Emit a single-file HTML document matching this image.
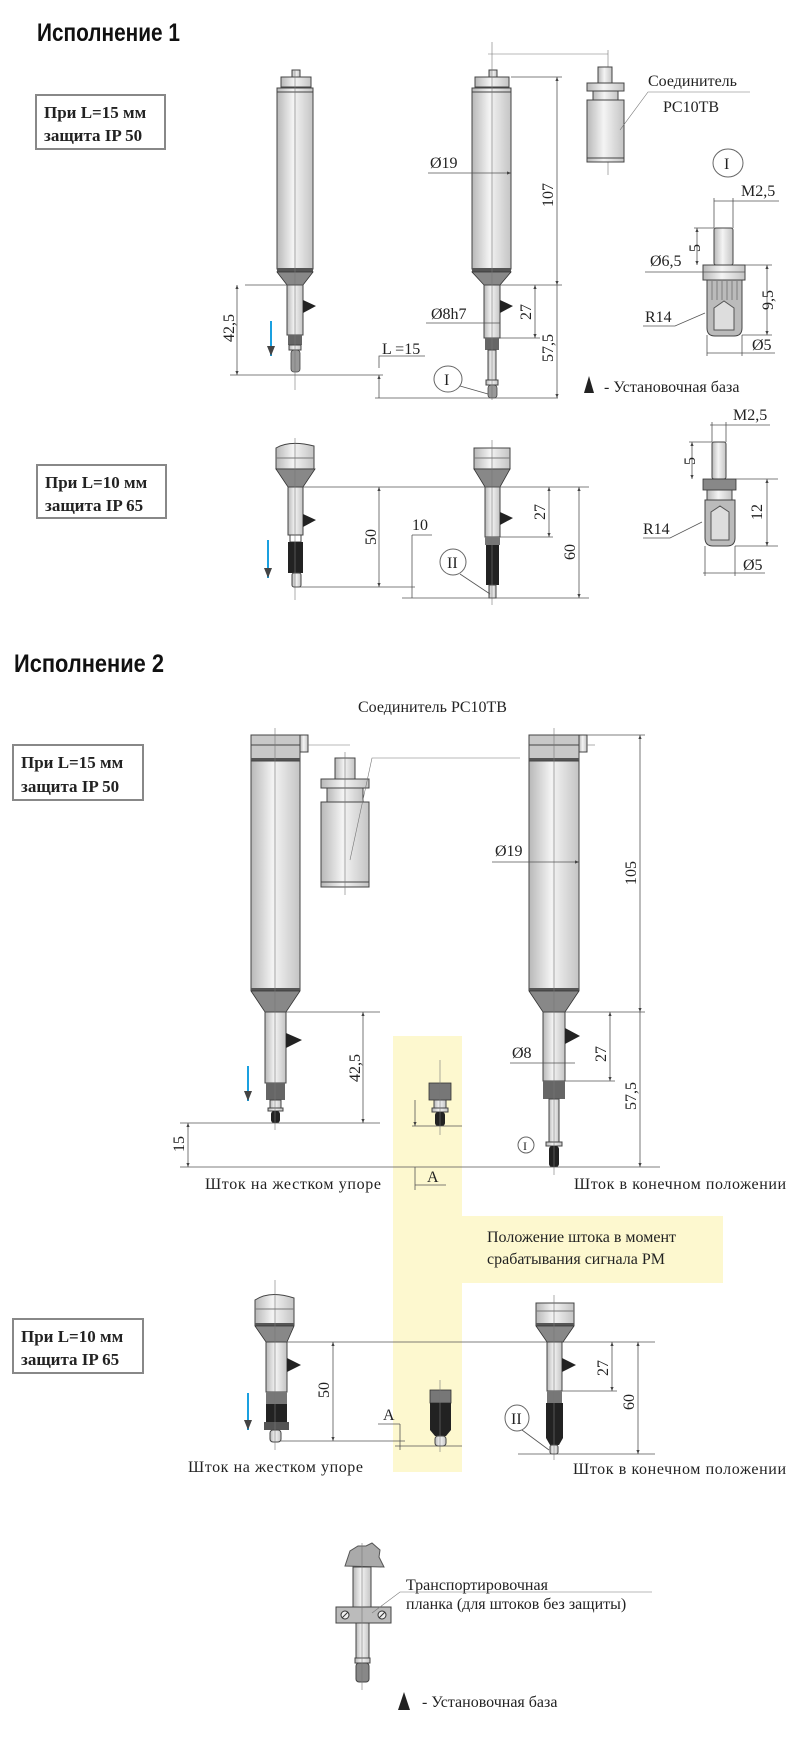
<!DOCTYPE html>
<html><head><meta charset="utf-8"><style>
html,body{margin:0;padding:0;background:#fff}
svg{display:block}
text{font-family:"Liberation Serif",serif;fill:#222}
.t{font-family:"Liberation Sans",sans-serif;font-weight:bold;fill:#111}
.b{font-weight:bold;font-size:17px}
.s{font-size:16px}
.d{stroke:#555;stroke-width:.8;fill:none}
.c{stroke:#777;stroke-width:.6;fill:none}
.m{fill:url(#g);stroke:#444;stroke-width:1}
.k{fill:#222}
.gr{fill:#888;stroke:#333;stroke-width:.8}
</style></head><body>
<svg width="800" height="1741" viewBox="0 0 800 1741" xmlns="http://www.w3.org/2000/svg">
<defs>
<linearGradient id="g" x1="0" x2="1" y1="0" y2="0"><stop offset="0" stop-color="#b8b8b8"/><stop offset=".45" stop-color="#f4f4f4"/><stop offset="1" stop-color="#c4c4c4"/></linearGradient>
<marker id="a" markerWidth="6" markerHeight="6" refX="5" refY="3" orient="auto-start-reverse"><path d="M0,1 L5,3 L0,5z" fill="#444"/></marker>
</defs>

<!-- titles -->
<text class="t" x="37" y="41" font-size="25" textLength="143" lengthAdjust="spacingAndGlyphs">Исполнение 1</text>
<text class="t" x="14" y="672" font-size="25" textLength="150" lengthAdjust="spacingAndGlyphs">Исполнение 2</text>

<!-- boxes -->
<g fill="#fff" stroke="#888" stroke-width="2">
<rect x="36" y="95" width="129" height="54"/><rect x="37" y="465" width="129" height="53"/>
<rect x="13" y="745" width="130" height="55"/><rect x="13" y="1319" width="130" height="54"/>
</g>
<text class="b" x="44" y="118">При L=15 мм</text><text class="b" x="44" y="141">защита IP 50</text>
<text class="b" x="45" y="488">При L=10 мм</text><text class="b" x="45" y="511">защита IP 65</text>
<text class="b" x="21" y="768">При L=15 мм</text><text class="b" x="21" y="792">защита IP 50</text>
<text class="b" x="21" y="1342">При L=10 мм</text><text class="b" x="21" y="1365">защита IP 65</text>

<!-- yellow -->
<rect x="393" y="1036" width="69" height="436" fill="#fdf8cf"/>
<rect x="462" y="1216" width="261" height="67" fill="#fdf8cf"/>
<text class="s" x="487" y="1242">Положение штока в момент</text>
<text class="s" x="487" y="1264">срабатывания сигнала РМ</text>

<!-- ===== Section 1 upper ===== -->
<!-- probe A -->
<path d="M292,70 h8 v7 h-8z" class="m"/>
<rect x="281" y="77" width="30" height="10" class="m"/>
<rect x="277" y="88" width="36" height="181" class="m"/>
<line x1="277" y1="92" x2="313" y2="92" stroke="#444"/>
<rect x="277" y="268" width="36" height="4" fill="#555"/>
<path d="M277,272 H313 L303,285 H287z" class="gr"/>
<rect x="287" y="285" width="16" height="50" class="m"/>
<rect x="288" y="335" width="14" height="10" fill="#666"/>
<rect x="289" y="345" width="12" height="5" class="m"/>
<rect x="291" y="350" width="9" height="22" rx="3" fill="#999" stroke="#444" stroke-width=".8"/>
<path d="M303,300 L316,306 L303,313z" class="k"/>
<line x1="295" y1="70" x2="295" y2="390" class="c"/>
<line x1="271" y1="321" x2="271" y2="356" stroke="#1aa0e0" stroke-width="2" marker-end="url(#a)"/>
<line x1="303" y1="285" x2="245" y2="285" class="d"/>
<line x1="237" y1="285" x2="237" y2="375" class="d" marker-start="url(#a)" marker-end="url(#a)"/>
<text class="s" transform="translate(234,342) rotate(-90)">42,5</text>
<line x1="230" y1="375" x2="383" y2="375" class="d"/>
<!-- probe B -->
<path d="M489,70 h8 v7 h-8z" class="m"/>
<rect x="475" y="77" width="34" height="10" class="m"/>
<rect x="472" y="88" width="39" height="181" class="m"/>
<line x1="472" y1="92" x2="511" y2="92" stroke="#444"/>
<rect x="472" y="268" width="39" height="4" fill="#555"/>
<path d="M472,272 H511 L500,285 H484z" class="gr"/>
<rect x="484" y="285" width="16" height="53" class="m"/>
<rect x="485" y="338" width="14" height="12" fill="#666"/>
<rect x="488" y="350" width="8" height="30" class="m"/>
<rect x="486" y="380" width="12" height="5" class="m"/>
<rect x="488" y="385" width="9" height="13" rx="3" fill="#999" stroke="#444" stroke-width=".8"/>
<path d="M500,300 L513,306 L500,313z" class="k"/>
<line x1="492" y1="42" x2="492" y2="400" class="c"/>
<line x1="488" y1="54" x2="608" y2="54" class="c"/>
<line x1="608" y1="50" x2="608" y2="175" class="c"/>
<line x1="511" y1="77" x2="562" y2="77" class="d"/>
<line x1="557" y1="77" x2="557" y2="285" class="d" marker-start="url(#a)" marker-end="url(#a)"/>
<text class="s" transform="translate(553,207) rotate(-90)">107</text>
<line x1="500" y1="285" x2="562" y2="285" class="d"/>
<line x1="557" y1="285" x2="557" y2="398" class="d" marker-end="url(#a)"/>
<text class="s" transform="translate(553,362) rotate(-90)">57,5</text>
<line x1="535" y1="285" x2="535" y2="338" class="d" marker-start="url(#a)" marker-end="url(#a)"/>
<text class="s" transform="translate(531,320) rotate(-90)">27</text>
<line x1="500" y1="338" x2="540" y2="338" class="d"/>
<line x1="428" y1="173" x2="511" y2="173" class="d" marker-end="url(#a)"/>
<text class="s" x="430" y="168">Ø19</text>
<line x1="426" y1="323" x2="500" y2="323" class="d"/>
<text class="s" x="431" y="319">Ø8h7</text>
<line x1="375" y1="398" x2="558" y2="398" class="d"/>
<line x1="379" y1="375" x2="379" y2="398" class="d" marker-start="url(#a)"/>
<path d="M379,368 V356 H425" class="d"/>
<text class="s" x="382" y="354">L =15</text>
<ellipse cx="448" cy="379" rx="14" ry="13" fill="#fff" stroke="#666"/>
<text class="s" x="444" y="385">I</text>
<line x1="460" y1="386" x2="488" y2="394" class="d"/>
<!-- connector 1 -->
<rect x="598" y="67" width="14" height="16" class="m"/>
<rect x="587" y="83" width="37" height="8" class="m"/>
<rect x="593" y="91" width="25" height="9" class="m"/>
<rect x="587" y="100" width="37" height="62" class="m"/>
<line x1="587" y1="158" x2="624" y2="158" stroke="#444"/>
<text class="s" x="648" y="86">Соединитель</text>
<text class="s" x="663" y="112">PC10TB</text>
<path d="M750,92 H648 L620,130" class="c"/>
<!-- detail I -->
<ellipse cx="728" cy="163" rx="15" ry="14" fill="#fff" stroke="#666"/>
<text class="s" x="724" y="169">I</text>
<rect x="714" y="228" width="19" height="37" rx="2" class="m"/>
<rect x="703" y="265" width="42" height="15" class="m"/>
<path d="M707,280 H742 V328 Q742,336 734,336 H715 Q707,336 707,328z" fill="#bbb" stroke="#444"/>
<g stroke="#666" stroke-width=".7"><line x1="712" y1="281" x2="712" y2="300"/><line x1="717" y1="281" x2="717" y2="300"/><line x1="722" y1="281" x2="722" y2="300"/><line x1="727" y1="281" x2="727" y2="300"/><line x1="732" y1="281" x2="732" y2="300"/><line x1="737" y1="281" x2="737" y2="300"/></g>
<path d="M714,308 L724,301 L734,308 V330 H714z" fill="#ddd" stroke="#555"/>
<line x1="697" y1="228" x2="697" y2="265" class="d" marker-start="url(#a)" marker-end="url(#a)"/>
<line x1="694" y1="228" x2="714" y2="228" class="d"/>
<text class="s" transform="translate(700,252) rotate(-90)">5</text>
<line x1="714" y1="198" x2="714" y2="228" class="d"/><line x1="733" y1="198" x2="733" y2="228" class="d"/>
<line x1="714" y1="201" x2="779" y2="201" class="d"/>
<text class="s" x="741" y="196">M2,5</text>
<line x1="645" y1="272" x2="745" y2="272" class="d"/>
<text class="s" x="650" y="266">Ø6,5</text>
<line x1="745" y1="265" x2="772" y2="265" class="d"/><line x1="742" y1="335" x2="772" y2="335" class="d"/>
<line x1="767" y1="265" x2="767" y2="335" class="d" marker-start="url(#a)" marker-end="url(#a)"/>
<text class="s" transform="translate(773,310) rotate(-90)">9,5</text>
<line x1="707" y1="335" x2="707" y2="356" class="d"/><line x1="742" y1="335" x2="742" y2="356" class="d"/>
<line x1="707" y1="353" x2="775" y2="353" class="d"/>
<text class="s" x="752" y="350">Ø5</text>
<path d="M643,326 H675 L705,313" class="d"/>
<text class="s" x="645" y="322">R14</text>
<path d="M584,393 L589,376 L594,393z" class="k"/>
<text class="s" x="604" y="392">- Установочная база</text>

<!-- ===== Section 1 lower ===== -->
<!-- probe C -->
<path d="M276,448 Q290,440 314,446 V469 H276z" class="m"/>
<line x1="276" y1="458" x2="314" y2="458" stroke="#777"/>
<path d="M276,469 H315 L303,487 H288z" class="gr"/>
<rect x="288" y="487" width="15" height="48" class="m"/>
<rect x="290" y="535" width="11" height="7" fill="#fff" stroke="#444"/>
<rect x="288" y="542" width="15" height="31" fill="#222"/>
<rect x="292" y="573" width="9" height="14" rx="2" class="m"/>
<path d="M303,514 L316,520 L303,527z" class="k"/>
<line x1="295" y1="438" x2="295" y2="600" class="c"/>
<line x1="268" y1="540" x2="268" y2="578" stroke="#1aa0e0" stroke-width="2" marker-end="url(#a)"/>
<!-- probe D -->
<path d="M474,448 H510 V469 H474z" class="m"/>
<line x1="474" y1="458" x2="510" y2="458" stroke="#777"/>
<path d="M474,469 H510 L500,487 H485z" class="gr"/>
<rect x="485" y="487" width="15" height="50" class="m"/>
<rect x="485" y="537" width="15" height="8" fill="#777"/>
<rect x="486" y="545" width="13" height="40" fill="#222"/>
<rect x="489" y="585" width="7" height="13" class="m"/>
<path d="M500,512 L513,518 L500,525z" class="k"/>
<line x1="492" y1="440" x2="492" y2="605" class="c"/>
<line x1="303" y1="487" x2="589" y2="487" class="d"/>
<line x1="379" y1="487" x2="379" y2="587" class="d" marker-start="url(#a)" marker-end="url(#a)"/>
<text class="s" transform="translate(376,545) rotate(-90)">50</text>
<line x1="295" y1="587" x2="415" y2="587" class="d"/>
<line x1="412" y1="535" x2="412" y2="598" class="d"/>
<path d="M412,535 H432" class="d"/>
<text class="s" x="412" y="530">10</text>
<line x1="402" y1="598" x2="589" y2="598" class="d"/>
<line x1="549" y1="487" x2="549" y2="537" class="d" marker-start="url(#a)" marker-end="url(#a)"/>
<line x1="500" y1="537" x2="553" y2="537" class="d"/>
<text class="s" transform="translate(545,520) rotate(-90)">27</text>
<line x1="579" y1="487" x2="579" y2="598" class="d" marker-start="url(#a)" marker-end="url(#a)"/>
<text class="s" transform="translate(575,560) rotate(-90)">60</text>
<ellipse cx="453" cy="562" rx="13" ry="13" fill="#fff" stroke="#666"/>
<text class="s" x="447" y="568">II</text>
<line x1="460" y1="574" x2="490" y2="594" class="d"/>
<!-- detail II -->
<rect x="712" y="442" width="14" height="37" rx="2" class="m"/>
<rect x="703" y="479" width="33" height="11" class="gr"/>
<rect x="707" y="490" width="25" height="10" class="m"/>
<path d="M705,500 H735 V538 Q735,546 727,546 H713 Q705,546 705,538z" fill="#bbb" stroke="#444"/>
<path d="M711,512 L720,506 L729,512 V540 H711z" fill="#ddd" stroke="#555"/>
<line x1="712" y1="422" x2="712" y2="442" class="d"/><line x1="726" y1="422" x2="726" y2="442" class="d"/>
<line x1="710" y1="425" x2="770" y2="425" class="d"/>
<text class="s" x="733" y="420">M2,5</text>
<line x1="692" y1="442" x2="692" y2="479" class="d" marker-start="url(#a)" marker-end="url(#a)"/>
<line x1="689" y1="442" x2="712" y2="442" class="d"/>
<text class="s" transform="translate(695,465) rotate(-90)">5</text>
<line x1="736" y1="479" x2="778" y2="479" class="d"/><line x1="735" y1="546" x2="778" y2="546" class="d"/>
<line x1="767" y1="479" x2="767" y2="546" class="d" marker-start="url(#a)" marker-end="url(#a)"/>
<text class="s" transform="translate(762,520) rotate(-90)">12</text>
<line x1="705" y1="546" x2="705" y2="576" class="d"/><line x1="735" y1="546" x2="735" y2="576" class="d"/>
<line x1="703" y1="573" x2="765" y2="573" class="d"/>
<text class="s" x="743" y="570">Ø5</text>
<path d="M643,538 H670 L702,522" class="d"/>
<text class="s" x="643" y="534">R14</text>

<!-- ===== Section 2 upper ===== -->
<!-- probe E -->
<rect x="300" y="735" width="8" height="17" class="m"/>
<rect x="251" y="735" width="49" height="25" fill="#c8c8c8" stroke="#444"/>
<line x1="251" y1="745" x2="300" y2="745" stroke="#444"/>
<rect x="251" y="758" width="49" height="3" fill="#555"/>
<rect x="251" y="761" width="49" height="229" class="m"/>
<rect x="251" y="988" width="49" height="3" fill="#555"/>
<path d="M251,991 H300 L286,1012 H265z" class="gr"/>
<rect x="265" y="1012" width="21" height="71" class="m"/>
<rect x="266" y="1083" width="19" height="17" fill="#666"/>
<rect x="270" y="1100" width="11" height="8" class="m"/>
<rect x="268" y="1108" width="15" height="3" class="m"/>
<rect x="271" y="1111" width="9" height="12" rx="3" fill="#222"/>
<path d="M286,1033 L302,1040 L286,1048z" class="k"/>
<line x1="275" y1="728" x2="275" y2="1130" class="c"/>
<line x1="308" y1="745" x2="350" y2="745" class="c"/>
<line x1="248" y1="1066" x2="248" y2="1101" stroke="#1aa0e0" stroke-width="2" marker-end="url(#a)"/>
<line x1="286" y1="1012" x2="380" y2="1012" class="d"/>
<line x1="363" y1="1012" x2="363" y2="1123" class="d" marker-start="url(#a)" marker-end="url(#a)"/>
<text class="s" transform="translate(360,1082) rotate(-90)">42,5</text>
<line x1="180" y1="1123" x2="380" y2="1123" class="d"/>
<line x1="188" y1="1123" x2="188" y2="1167" class="d" marker-start="url(#a)" marker-end="url(#a)"/>
<text class="s" transform="translate(184,1152) rotate(-90)">15</text>
<!-- connector 2 -->
<rect x="335" y="758" width="20" height="21" class="m"/>
<rect x="321" y="779" width="48" height="9" class="m"/>
<rect x="327" y="788" width="36" height="14" class="m"/>
<rect x="321" y="802" width="48" height="85" class="m"/>
<line x1="321" y1="882" x2="369" y2="882" stroke="#444"/>
<line x1="345" y1="752" x2="345" y2="895" class="c"/>
<text class="s" x="358" y="712">Соединитель PC10TB</text>
<path d="M520,758 H372 L350,860" class="c"/>
<!-- small probe in yellow -->
<rect x="429" y="1083" width="22" height="17" fill="#777" stroke="#333" stroke-width=".8"/>
<rect x="434" y="1100" width="12" height="8" class="m"/>
<rect x="432" y="1108" width="16" height="4" class="m"/>
<rect x="435" y="1112" width="10" height="14" rx="3" fill="#222"/>
<line x1="440" y1="1060" x2="440" y2="1135" class="c"/>
<line x1="412" y1="1126" x2="462" y2="1126" class="d"/>
<line x1="415" y1="1100" x2="415" y2="1126" class="d" marker-end="url(#a)"/>
<line x1="415" y1="1167" x2="415" y2="1190" class="d"/>
<path d="M415,1185 H446" class="d"/>
<text class="s" x="427" y="1182">A</text>
<!-- probe F -->
<rect x="579" y="735" width="8" height="17" class="m"/>
<rect x="529" y="735" width="50" height="25" fill="#c8c8c8" stroke="#444"/>
<line x1="529" y1="745" x2="579" y2="745" stroke="#444"/>
<rect x="529" y="758" width="50" height="3" fill="#555"/>
<rect x="529" y="761" width="50" height="229" class="m"/>
<rect x="529" y="988" width="50" height="3" fill="#555"/>
<path d="M529,991 H579 L565,1012 H543z" class="gr"/>
<rect x="543" y="1012" width="22" height="69" class="m"/>
<rect x="543" y="1081" width="22" height="18" fill="#666"/>
<rect x="549" y="1099" width="10" height="43" class="m"/>
<rect x="546" y="1142" width="16" height="4" class="m"/>
<rect x="549" y="1146" width="10" height="21" rx="3" fill="#222"/>
<path d="M565,1028 L580,1036 L565,1044z" class="k"/>
<line x1="554" y1="728" x2="554" y2="1175" class="c"/>
<line x1="587" y1="735" x2="645" y2="735" class="d"/>
<line x1="587" y1="745" x2="595" y2="745" class="c"/>
<line x1="640" y1="735" x2="640" y2="1012" class="d" marker-start="url(#a)" marker-end="url(#a)"/>
<text class="s" transform="translate(636,885) rotate(-90)">105</text>
<line x1="565" y1="1012" x2="645" y2="1012" class="d"/>
<line x1="640" y1="1012" x2="640" y2="1167" class="d" marker-end="url(#a)"/>
<text class="s" transform="translate(636,1110) rotate(-90)">57,5</text>
<line x1="610" y1="1012" x2="610" y2="1081" class="d" marker-start="url(#a)" marker-end="url(#a)"/>
<line x1="565" y1="1081" x2="615" y2="1081" class="d"/>
<text class="s" transform="translate(606,1062) rotate(-90)">27</text>
<line x1="492" y1="862" x2="579" y2="862" class="d" marker-end="url(#a)"/>
<text class="s" x="495" y="856">Ø19</text>
<line x1="510" y1="1063" x2="575" y2="1063" class="d"/>
<text class="s" x="512" y="1058">Ø8</text>
<ellipse cx="526" cy="1145" rx="8" ry="8" fill="#fff" stroke="#666"/>
<text x="523" y="1150" font-size="12">I</text>
<line x1="180" y1="1167" x2="660" y2="1167" class="d"/>
<text class="s" x="205" y="1189" textLength="176">Шток на жестком упоре</text>
<text class="s" x="574" y="1189" textLength="212">Шток в конечном положении</text>

<!-- ===== Section 2 lower ===== -->
<!-- probe G -->
<path d="M255,1300 Q270,1290 294,1298 V1325 H255z" class="m"/>
<line x1="255" y1="1309" x2="294" y2="1309" stroke="#777"/>
<rect x="255" y="1323" width="39" height="3" fill="#555"/>
<path d="M255,1326 H294 L287,1342 H266z" class="gr"/>
<rect x="266" y="1342" width="21" height="50" class="m"/>
<rect x="266" y="1392" width="21" height="12" fill="#777"/>
<rect x="266" y="1404" width="21" height="21" fill="#222"/>
<rect x="264" y="1422" width="25" height="8" fill="#555"/>
<rect x="270" y="1430" width="11" height="12" rx="3" class="m"/>
<path d="M287,1358 L301,1365 L287,1372z" class="k"/>
<line x1="275" y1="1280" x2="275" y2="1450" class="c"/>
<line x1="248" y1="1393" x2="248" y2="1430" stroke="#1aa0e0" stroke-width="2" marker-end="url(#a)"/>
<line x1="287" y1="1342" x2="655" y2="1342" class="d"/>
<line x1="333" y1="1342" x2="333" y2="1441" class="d" marker-start="url(#a)" marker-end="url(#a)"/>
<text class="s" transform="translate(329,1398) rotate(-90)">50</text>
<line x1="280" y1="1441" x2="405" y2="1441" class="d"/>
<line x1="400" y1="1424" x2="400" y2="1450" class="d"/>
<path d="M378,1424 H400" class="d"/>
<text class="s" x="383" y="1420">A</text>
<!-- small probe lower -->
<rect x="430" y="1390" width="21" height="13" fill="#777" stroke="#333" stroke-width=".8"/>
<path d="M430,1403 H451 V1430 L446,1436 H435 L430,1430z" fill="#222"/>
<rect x="435" y="1436" width="11" height="10" rx="3" class="m"/>
<line x1="440" y1="1380" x2="440" y2="1452" class="c"/>
<line x1="395" y1="1446" x2="462" y2="1446" class="d"/>
<!-- probe H -->
<rect x="536" y="1303" width="38" height="22" class="m"/>
<line x1="536" y1="1311" x2="574" y2="1311" stroke="#777"/>
<rect x="536" y="1323" width="38" height="3" fill="#555"/>
<path d="M536,1326 H574 L563,1342 H547z" class="gr"/>
<rect x="547" y="1342" width="15" height="49" class="m"/>
<rect x="547" y="1391" width="15" height="12" fill="#777"/>
<path d="M546,1403 H563 V1438 L559,1445 H550 L546,1438z" fill="#222"/>
<rect x="550" y="1445" width="8" height="9" rx="2" class="m"/>
<path d="M562,1358 L576,1365 L562,1372z" class="k"/>
<line x1="554" y1="1295" x2="554" y2="1460" class="c"/>
<line x1="612" y1="1342" x2="612" y2="1391" class="d" marker-start="url(#a)" marker-end="url(#a)"/>
<line x1="562" y1="1391" x2="617" y2="1391" class="d"/>
<text class="s" transform="translate(608,1376) rotate(-90)">27</text>
<line x1="638" y1="1342" x2="638" y2="1454" class="d" marker-start="url(#a)" marker-end="url(#a)"/>
<text class="s" transform="translate(634,1410) rotate(-90)">60</text>
<line x1="518" y1="1454" x2="655" y2="1454" class="d"/>
<ellipse cx="517" cy="1418" rx="12" ry="13" fill="#fff" stroke="#666"/>
<text class="s" x="511" y="1424">II</text>
<line x1="522" y1="1430" x2="549" y2="1450" class="d"/>
<text class="s" x="188" y="1472" textLength="175">Шток на жестком упоре</text>
<text class="s" x="573" y="1474" textLength="213">Шток в конечном положении</text>

<!-- ===== Transport plank ===== -->
<path d="M345,1566 L350,1551 L358,1546 L366,1546 L372,1543 L380,1550 L379,1557 L384,1567z" fill="#aaa" stroke="#555"/>
<rect x="353" y="1567" width="18" height="40" class="m"/>
<rect x="336" y="1607" width="55" height="16" fill="#bbb" stroke="#444"/>
<circle cx="345" cy="1615" r="4" fill="#eee" stroke="#333"/><line x1="342" y1="1618" x2="348" y2="1612" stroke="#333"/>
<circle cx="382" cy="1615" r="4" fill="#eee" stroke="#333"/><line x1="379" y1="1618" x2="385" y2="1612" stroke="#333"/>
<rect x="356" y="1623" width="13" height="37" class="m"/>
<rect x="355" y="1658" width="15" height="5" class="m"/>
<rect x="356" y="1663" width="13" height="19" rx="3" fill="#888" stroke="#444"/>
<line x1="362" y1="1543" x2="362" y2="1690" class="c"/>
<text class="s" x="406" y="1590">Транспортировочная</text>
<text class="s" x="406" y="1609">планка (для  штоков без защиты)</text>
<path d="M652,1592 H400 L372,1613" class="c"/>
<path d="M398,1710 L404,1692 L410,1710z" class="k"/>
<text class="s" x="422" y="1707">- Установочная база</text>
</svg>
</body></html>
